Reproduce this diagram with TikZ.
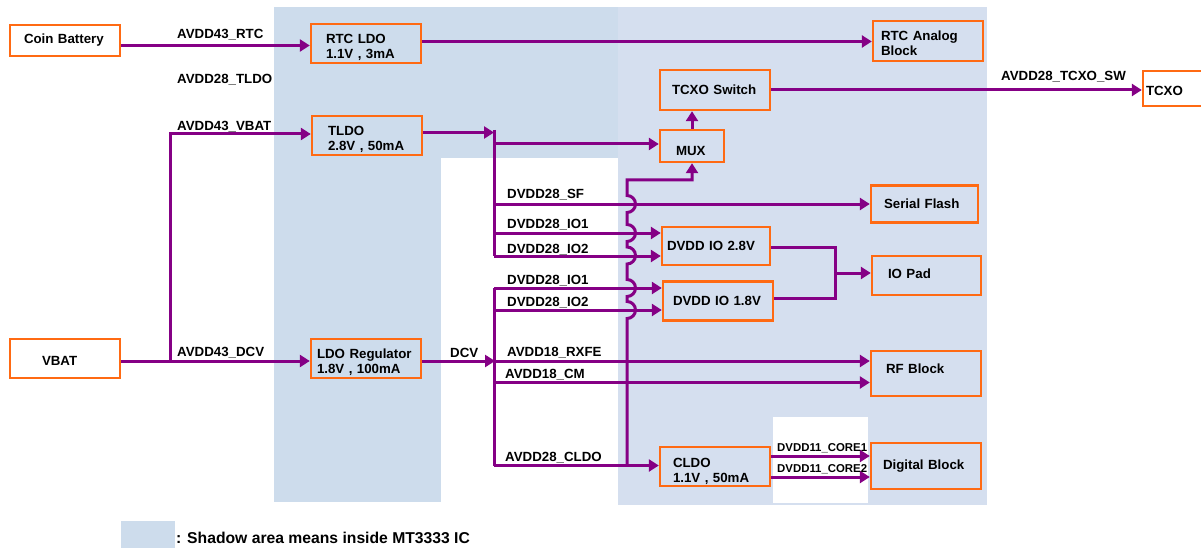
\documentclass[tikz,border=0pt]{standalone}
\usepackage{fontspec}
\setmainfont{Liberation Sans}
\usetikzlibrary{arrows.meta}
\definecolor{shA}{HTML}{CDDCEC}
\definecolor{shC}{HTML}{D5DFEF}
\definecolor{wirec}{HTML}{850085}
\definecolor{brd}{HTML}{FF6A13}
\newcommand{\bxfont}{\fontsize{13.3}{15.3}\selectfont\bfseries}
\newcommand{\smfont}{\fontsize{11.4}{12}\selectfont\bfseries}
\newcommand{\lgfont}{\fontsize{15.7}{17}\selectfont\bfseries}
% vertical nudges of box texts
\newcommand{\dnby}[1]{\rule{0pt}{\dimexpr 9.6pt+#1\relax}}
\newcommand{\upby}[1]{\rule[-#1]{0pt}{#1}}
\begin{document}
\begin{tikzpicture}[x=1pt,y=-1pt,
  box/.style={draw=brd, line width=2.4pt, align=left, font=\bxfont, inner ysep=0pt, minimum height=39pt},
  lbl/.style={anchor=base west, inner sep=0pt, font=\bxfont},
  smlbl/.style={anchor=base west, inner sep=0pt, font=\smfont},
  wire/.style={draw=wirec, line width=3pt},
  arr/.style={wire, -{Triangle[length=10pt,width=12pt]}}]
\useasboundingbox (0,0) rectangle (1201,548);
\fill[white] (0,0) rectangle (1201,548);
% shaded areas
\fill[shA] (274,7) rectangle (441,502);
\fill[shA] (441,7) rectangle (618,158);
\fill[shC] (618,7) rectangle (987,505);
\fill[white] (773,417) rectangle (868,503);
% boxes
\node[box, minimum height=31pt, inner xsep=14pt, text width=82pt] (coin) at (65,40.5) {Coin Battery};
\node[box, inner xsep=15pt, text width=80pt] (rtcldo) at (366,43.5) {\dnby{8pt}RTC LDO\\1.1V , 3mA};
\node[box, inner xsep=16pt, text width=78pt] (tldo) at (367,135.5) {\dnby{8pt}TLDO\\2.8V , 50mA};
\node[box, inner xsep=32pt, text width=46pt] (vbat) at (65,358.5) {\dnby{4pt}VBAT};
\node[box, inner xsep=6pt, text width=98pt] (ldo) at (366,358.5) {\dnby{7pt}LDO Regulator\\1.8V , 100mA};
\node[box, minimum height=40pt, inner xsep=8pt, text width=94pt] (rtca) at (928,41) {\dnby{5pt}RTC Analog\\Block};
\node[box, minimum height=40pt, inner xsep=12pt, text width=86pt] (tcxosw) at (715,90) {TCXO Switch};
\node[box, minimum height=35pt, inner xsep=3pt, text width=66pt] (tcxo) at (1179,88.5) {\dnby{4pt}TCXO};
\node[box, minimum height=32pt, inner xsep=16pt, text width=32pt] (mux) at (692,146) {\dnby{10pt}MUX};
\node[box, minimum height=37pt, inner xsep=13pt, text width=81pt] (sf) at (924.5,204) {Serial Flash};
\node[box, minimum height=38pt, inner xsep=5pt, text width=98pt] (io28) at (716,246) {DVDD IO 2.8V};
\node[box, inner xsep=16pt, text width=77pt] (iopad) at (926.5,275.5) {IO Pad\upby{4pt}};
\node[box, inner xsep=10pt, text width=90pt] (io18) at (718,301) {DVDD IO 1.8V};
\node[box, minimum height=45pt, inner xsep=15pt, text width=80pt] (rf) at (926,373.5) {RF Block\upby{10pt}};
\node[box, minimum height=46pt, inner xsep=12pt, text width=86pt] (dig) at (926,466) {Digital Block};
\node[box, inner xsep=13pt, text width=84pt] (cldo) at (715,466.5) {\dnby{9pt}CLDO\\1.1V , 50mA};
% junction coordinates
\coordinate (vj) at (170,361);
\coordinate (bt) at (494,132.5);
\coordinate (bb) at (494,256);
\coordinate (lt) at (494,288);
\coordinate (lb) at (494,465.5);
\coordinate (mj) at (835,273);
% wires
\draw[arr] (coin.east |- 0,45.5) -- (rtcldo.west |- 0,45.5);
\draw[arr] (rtcldo.east |- 0,41.5) -- (rtca.west |- 0,41.5);
\draw[arr] (vbat.east |- 0,361) -- (ldo.west |- 0,361);
\draw[arr] (vj) -- (170,134) -- (tldo.west |- 0,134);
\draw[arr] (tldo.east |- 0,132.5) -- (bt);
\draw[wire] (494,130) -- (bb);
\draw[arr] (494,144) -- (mux.west |- 0,144);
\draw[arr] (494,204) -- (sf.west |- 0,204);
\draw[arr] (494,233) -- (io28.west |- 0,233);
\draw[arr] (bb) -- (io28.west |- 0,256);
\draw[arr] (ldo.east |- 0,361) -- (495,361);
\draw[wire] (lt) -- (lb);
\draw[arr] (lt) -- (io18.west |- 0,288);
\draw[arr] (494,310) -- (io18.west |- 0,310);
\draw[arr] (494,361) -- (rf.west |- 0,361);
\draw[arr] (494,382.5) -- (rf.west |- 0,382.5);
\draw[arr] (lb) -- (cldo.west |- 0,465.5);
\draw[wire] (io28.east |- 0,247) -- (835,247) -- (835,298) -- (io18.east |- 0,298);
\draw[arr] (mj) -- (iopad.west |- mj);
\draw[arr] (cldo.east |- 0,456) -- (dig.west |- 0,456);
\draw[arr] (cldo.east |- 0,477) -- (dig.west |- 0,477);
\draw[arr] (tcxosw.east) -- (tcxo.west |- tcxosw.east);
\draw[arr] (mux.north) -- (mux.north |- tcxosw.south);
\draw[arr] (627,465.5) -- (627,318.5) arc[start angle=-90,end angle=90,radius=8.5pt]
  -- (627,296.5) arc[start angle=-90,end angle=90,radius=8.5pt]
  -- (627,264) arc[start angle=-90,end angle=90,radius=8.5pt]
  -- (627,241.5) arc[start angle=-90,end angle=90,radius=8.5pt]
  -- (627,212.5) arc[start angle=-90,end angle=90,radius=8.5pt]
  -- (627,180) -- (mux.south |- 0,180) -- (mux.south);
% labels
\node[lbl] (l1) at (177,39) {AVDD43\_RTC};
\node[lbl] (l2) at (177,84) {AVDD28\_TLDO};
\node[lbl] (l3) at (177,131) {AVDD43\_VBAT};
\node[lbl] (l4) at (177,356) {AVDD43\_DCV};
\node[lbl] (l5) at (450,357) {DCV};
\node[lbl] (l6) at (507,198) {DVDD28\_SF};
\node[lbl] (l7) at (507,228) {DVDD28\_IO1};
\node[lbl] (l8) at (507,253) {DVDD28\_IO2};
\node[lbl] (l9) at (507,284) {DVDD28\_IO1};
\node[lbl] (l10) at (507,306) {DVDD28\_IO2};
\node[lbl] (l11) at (507,356) {AVDD18\_RXFE};
\node[lbl] (l12) at (505,378) {AVDD18\_CM};
\node[lbl] (l13) at (505,461) {AVDD28\_CLDO};
\node[smlbl] (l14) at (777,451) {DVDD11\_CORE1};
\node[smlbl] (l15) at (777,472) {DVDD11\_CORE2};
\node[lbl] (l16) at (1001,81) {AVDD28\_TCXO\_SW};
% legend
\fill[shA] (121,521) rectangle (175,548);
\node[anchor=base west, inner sep=0pt, font=\lgfont] (leg) at (176,543.6) {: Shadow area means inside MT3333 IC};
\end{tikzpicture}
\end{document}
